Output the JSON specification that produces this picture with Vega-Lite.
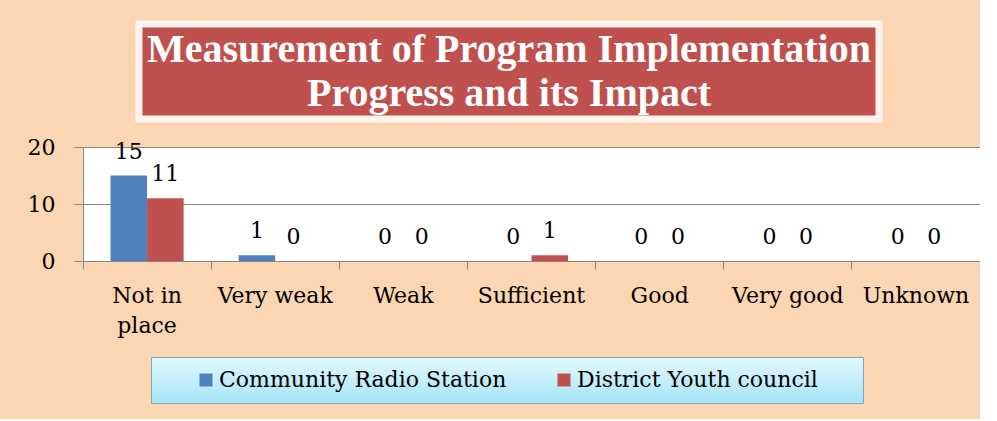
{
  "$schema": "https://vega.github.io/schema/vega-lite/v6.json",
  "background": "#FCD5B3",
  "padding": {"left": 27, "top": 20, "right": 0, "bottom": 15},
  "spacing": 13,
  "center": true,
  "resolve": {"legend": {"color": "independent"}},
  "config": {
    "font": "DejaVu Serif",
    "axis": {
      "domainColor": "#868686",
      "tickColor": "#868686",
      "gridColor": "#868686",
      "labelFont": "DejaVu Serif",
      "labelFontSize": 22,
      "labelColor": "#000000",
      "title": null
    }
  },
  "vconcat": [
    {
      "spacing": 0,
      "hconcat": [
        {
          "width": 740,
          "height": 95,
          "data": {"values": [{"line": "Measurement of Program Implementation\nProgress and its Impact"}]},
          "view": {"fill": "#C0504D", "stroke": "#FDF3EE", "strokeWidth": 7},
          "mark": {
            "type": "text",
            "font": "Liberation Serif",
            "fontWeight": "bold",
            "fontSize": 40,
            "color": "#FFFFFF",
            "lineHeight": 44,
            "lineBreak": "\n",
            "align": "center",
            "baseline": "middle",
            "dy": -22
          },
          "encoding": {"text": {"field": "line", "type": "nominal"}}
        },
        {
          "width": 41,
          "height": 95,
          "data": {"values": [{"blank": ""}]},
          "view": {"stroke": null},
          "mark": {"type": "point", "opacity": 0},
          "encoding": {}
        }
      ]
    },
    {
      "width": 897,
      "height": 114,
      "data": {
        "values": [
          {"rating": "Not in place", "series": "Community Radio Station", "count": 15},
          {"rating": "Not in place", "series": "District Youth council", "count": 11},
          {"rating": "Very weak", "series": "Community Radio Station", "count": 1},
          {"rating": "Very weak", "series": "District Youth council", "count": 0},
          {"rating": "Weak", "series": "Community Radio Station", "count": 0},
          {"rating": "Weak", "series": "District Youth council", "count": 0},
          {"rating": "Sufficient", "series": "Community Radio Station", "count": 0},
          {"rating": "Sufficient", "series": "District Youth council", "count": 1},
          {"rating": "Good", "series": "Community Radio Station", "count": 0},
          {"rating": "Good", "series": "District Youth council", "count": 0},
          {"rating": "Very good", "series": "Community Radio Station", "count": 0},
          {"rating": "Very good", "series": "District Youth council", "count": 0},
          {"rating": "Unknown", "series": "Community Radio Station", "count": 0},
          {"rating": "Unknown", "series": "District Youth council", "count": 0}
        ]
      },
      "view": {"fill": "#FFFFFF", "stroke": null},
      "encoding": {
        "x": {
          "field": "rating",
          "type": "nominal",
          "sort": ["Not in place", "Very weak", "Weak", "Sufficient", "Good", "Very good", "Unknown"],
          "scale": {"paddingInner": 0, "paddingOuter": 0},
          "axis": {
            "labelAngle": 0,
            "bandPosition": 0,
            "ticks": true,
            "tickSize": 8,
            "labelPadding": 16,
            "labelBaseline": "top",
            "labelLineHeight": 30,
            "labelExpr": "datum.value == 'Not in place' ? ['Not in', 'place'] : datum.value",
            "labelBound": false,
            "labelOverlap": false,
            "grid": false
          }
        },
        "xOffset": {
          "field": "series",
          "type": "nominal",
          "sort": ["Community Radio Station", "District Youth council"],
          "scale": {"paddingInner": 0, "paddingOuter": 0.753}
        },
        "y": {
          "field": "count",
          "type": "quantitative",
          "scale": {"domain": [0, 20]},
          "axis": {"values": [0, 10, 20], "tickSize": 9, "labelPadding": 19, "grid": true, "domain": true}
        }
      },
      "layer": [
        {
          "mark": {"type": "bar"},
          "encoding": {
            "color": {
              "field": "series",
              "type": "nominal",
              "sort": ["Community Radio Station", "District Youth council"],
              "scale": {"range": ["#4F81BD", "#C0504D"]},
              "legend": {
                "title": "\u2002",
                "titleOrient": "right",
                "titlePadding": 33,
                "titleFontSize": 22,
                "orient": "none",
                "legendX": 68,
                "legendY": 210,
                "direction": "horizontal",
                "fillColor": {"expr": "{gradient: 'linear', x1: 0, y1: 0, x2: 0, y2: 1, stops: [{offset: 0, color: '#E3F8FE'}, {offset: 1, color: '#A5E4F6'}]}"},
                "strokeColor": "#7AAAB8",
                "padding": 12,
                "symbolType": "square",
                "symbolSize": 169,
                "symbolStrokeWidth": 0,
                "symbolOffset": 32,
                "labelOffset": 2,
                "columnPadding": 14,
                "labelFont": "DejaVu Serif",
                "labelFontSize": 22,
                "labelColor": "#000000",
                "labelLimit": 400
              }
            }
          }
        },
        {
          "mark": {"type": "text", "baseline": "alphabetic", "dy": -17, "fontSize": 22, "font": "DejaVu Serif", "color": "#000000"},
          "encoding": {"text": {"field": "count", "type": "quantitative"}}
        }
      ]
    }
  ]
}
